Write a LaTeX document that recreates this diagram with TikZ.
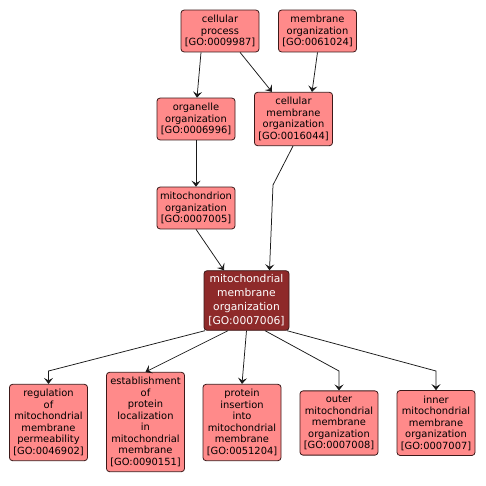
\documentclass[tikz,border=0pt]{standalone}
\usepackage{fontspec}
\setmainfont{DejaVu Sans}
\usetikzlibrary{
  arrows.meta,
  positioning,
  calc
}
\definecolor{termbg}{RGB}{255,138,138}
\definecolor{termborder}{RGB}{60,25,25}
\definecolor{focusbg}{RGB}{142,42,42}
\definecolor{edgegray}{RGB}{25,25,25}
\tikzset{
  goterm/.style={
    draw=termborder, fill=termbg, line width=0.8pt,
    rounded corners=3pt, minimum width=78pt,
    inner xsep=1pt, inner ysep=5pt, align=center,
    font=\fontsize{9.9}{11.5}\selectfont\color{black}
  },
  gofocus/.style={
    draw=termborder, fill=focusbg, line width=0.8pt,
    rounded corners=3pt, minimum width=85pt,
    inner xsep=1pt, inner ysep=4pt, align=center,
    font=\fontsize{10.7}{14}\selectfont\color{white}
  },
  isaarrow/.style={
    -{Stealth[length=6pt,width=9pt,inset=2.5pt]},
    draw=edgegray, line width=0.75pt
  },
}

\begin{document}
\begin{tikzpicture}[x=1pt, y=-1pt]

  \useasboundingbox[fill=white] (0,0) rectangle (486,485);

  %% Top layers
  \node[goterm] (cp) at (220,31) {cellular\\process\\{[GO:0009987]}};
  \node[goterm] (mo) at (317.5,31) {membrane\\organization\\{[GO:0061024]}};
  \node[goterm] (oo) at (196,119) {organelle\\organization\\{[GO:0006996]}};
  \node[goterm] (cmo) at (293.5,119)
    {cellular\\membrane\\organization\\{[GO:0016044]}};
  \node[goterm] (mito) at (196,208)
    {mitochondrion\\organization\\{[GO:0007005]}};

  %% Focus term
  \node[gofocus] (mmo) at (246.5,300.5)
    {mitochondrial\\membrane\\organization\\{[GO:0007006]}};

  %% Children
  \node[goterm] (reg) at (48.5,422.5)
    {regulation\\of\\mitochondrial\\membrane\\permeability\\{[GO:0046902]}};
  \node[goterm] (est) at (145.5,422)
    {establishment\\of\\protein\\localization\\in\\mitochondrial\\membrane\\{[GO:0090151]}};
  \node[goterm] (pin) at (242,422.5)
    {protein\\insertion\\into\\mitochondrial\\membrane\\{[GO:0051204]}};
  \node[goterm] (omo) at (339,423)
    {outer\\mitochondrial\\membrane\\organization\\{[GO:0007008]}};
  \node[goterm] (imo) at (436,423)
    {inner\\mitochondrial\\membrane\\organization\\{[GO:0007007]}};

  %% Bend points
  \coordinate (cmobend) at (273,185);
  \coordinate (regbend) at (48.5,371);
  \coordinate (omobend) at (339,371);
  \coordinate (imobend) at (436,371);

  %% Edges
  \draw[isaarrow] ([xshift=-19pt]cp.south) -- ([xshift=1pt]oo.north);
  \draw[isaarrow] ([xshift=20pt]cp.south) -- ([xshift=-21.5pt]cmo.north);
  \draw[isaarrow] (mo.south) -- ([xshift=18.5pt]cmo.north);
  \draw[isaarrow] (oo.south) -- (mito.north);
  \draw[isaarrow] (mito.south) -- ([xshift=-22.5pt]mmo.north);
  \draw[isaarrow] ([xshift=-0.5pt]cmo.south) -- (cmobend)
    -- ([xshift=23pt]mmo.north);

  \draw[isaarrow] ([xshift=-41.5pt]mmo.south) -- (regbend) -- (reg.north);
  \draw[isaarrow] ([xshift=-18.5pt]mmo.south) -- (est.north);
  \draw[isaarrow] (mmo.south) -- (pin.north);
  \draw[isaarrow] ([xshift=18.5pt]mmo.south) -- (omobend) -- (omo.north);
  \draw[isaarrow] ([xshift=40.5pt]mmo.south) -- (imobend) -- (imo.north);

\end{tikzpicture}
\end{document}
